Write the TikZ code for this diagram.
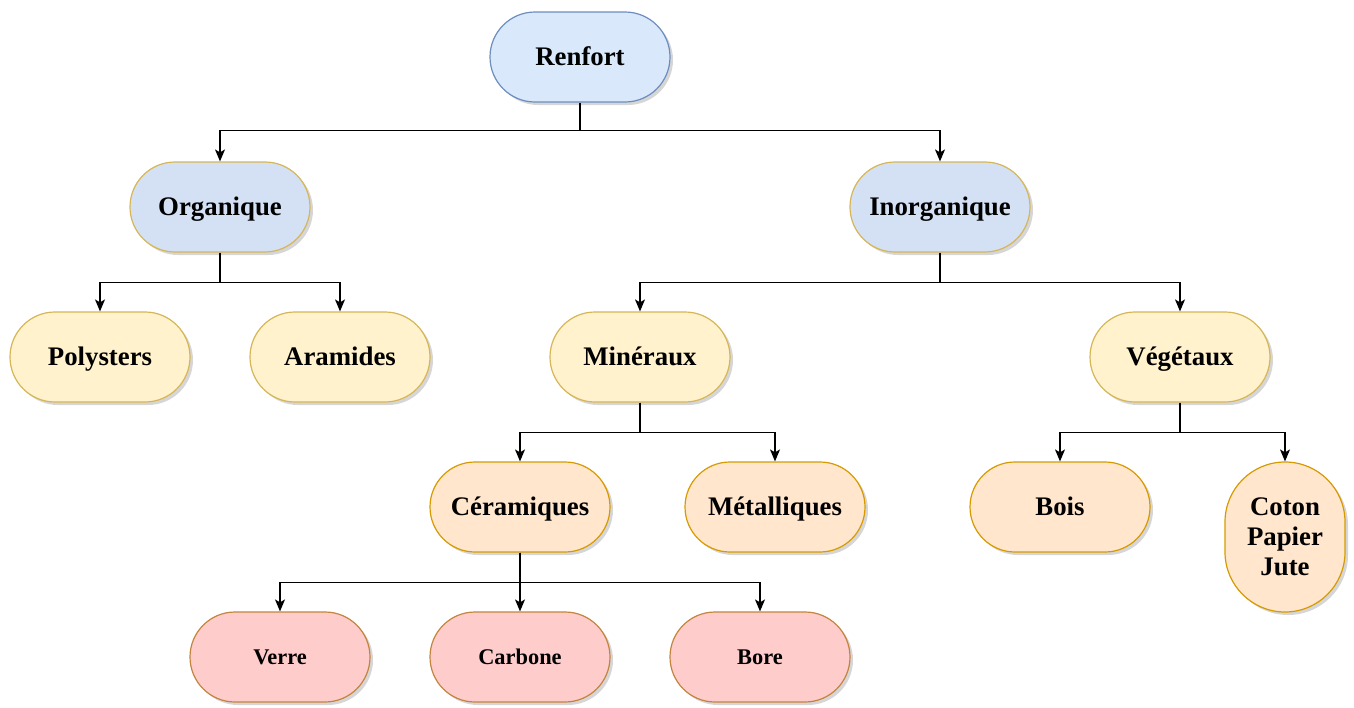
\documentclass[tikz,border=0pt]{standalone}
\usepackage{fontspec}
\setmainfont{Liberation Serif}
\usetikzlibrary{arrows.meta,shadows}
\definecolor{rootFill}{HTML}{DAE8FC}
\definecolor{rootLine}{HTML}{6C8EBF}
\definecolor{classFill}{HTML}{D4E1F5}
\definecolor{yellowFill}{HTML}{FFF2CC}
\definecolor{yellowLine}{HTML}{D6B656}
\definecolor{orangeFill}{HTML}{FFE6CC}
\definecolor{orangeLine}{HTML}{D79B00}
\definecolor{redFill}{HTML}{FFCCCC}
\definecolor{redLine}{HTML}{C4843E}

\begin{document}
\begin{tikzpicture}[x=0.5pt,y=-0.5pt,
    box/.style={draw, line width=0.6pt, minimum width=90pt, minimum height=45pt,
      rounded corners=22.5pt, inner sep=2pt, align=center,
      font=\fontsize{13.4}{15}\selectfont\bfseries,
      drop shadow={shadow xshift=1.5pt, shadow yshift=-1.5pt, fill=black!40, opacity=0.4}},
    oneline/.style={text height=8.9pt, text depth=0pt},
    rootbox/.style={box, oneline, fill=rootFill, draw=rootLine},
    classbox/.style={box, oneline, fill=classFill, draw=yellowLine},
    familybox/.style={box, oneline, fill=yellowFill, draw=yellowLine},
    typebox/.style={box, fill=orangeFill, draw=orangeLine},
    fibrebox/.style={box, fill=redFill, draw=redLine, text height=7.4pt, text depth=0pt,
      font=\fontsize{11.2}{13}\selectfont\bfseries},
    link/.style={draw=black, line width=0.65pt, -{Stealth[length=6pt, width=5pt, inset=1.5pt]}}]
  \useasboundingbox (0,0) rectangle (1354,707);

  % niveaux de l'arbre
  \node[rootbox]   (renfort)    at (580,57)  {Renfort};
  \node[classbox]  (organique)  at (220,207) {Organique};
  \node[classbox]  (inorganique) at (940,207) {Inorganique};
  \node[familybox] (polysters)  at (100,357) {Polysters};
  \node[familybox] (aramides)   at (340,357) {Aramides};
  \node[familybox] (mineraux)   at (640,357) {Minéraux};
  \node[familybox] (vegetaux)   at (1180,357) {Végétaux};
  \node[typebox, oneline] (ceramiques) at (520,507) {Céramiques};
  \node[typebox, oneline] (metalliques) at (775,507) {Métalliques};
  \node[typebox, oneline] (bois) at (1060,507) {Bois};
  \node[typebox, minimum width=60pt, minimum height=75pt, rounded corners=30pt]
                   (coton)      at (1285,537) {Coton\\Papier\\Jute};
  \node[fibrebox]  (verre)      at (280,657) {Verre};
  \node[fibrebox]  (carbone)    at (520,657) {Carbone};
  \node[fibrebox]  (bore)       at (760,657) {Bore};

  % liaisons
  \draw[link] (renfort.south) -- ++(0,28) -| (organique.north);
  \draw[link] (renfort.south) -- ++(0,28) -| (inorganique.north);
  \draw[link] (organique.south) -- ++(0,30) -| (polysters.north);
  \draw[link] (organique.south) -- ++(0,30) -| (aramides.north);
  \draw[link] (inorganique.south) -- ++(0,30) -| (mineraux.north);
  \draw[link] (inorganique.south) -- ++(0,30) -| (vegetaux.north);
  \draw[link] (mineraux.south) -- ++(0,30) -| (ceramiques.north);
  \draw[link] (mineraux.south) -- ++(0,30) -| (metalliques.north);
  \draw[link] (vegetaux.south) -- ++(0,30) -| (bois.north);
  \draw[link] (vegetaux.south) -- ++(0,30) -| (coton.north);
  \draw[link] (ceramiques.south) -- ++(0,30) -| (verre.north);
  \draw[link] (ceramiques.south) -- (carbone.north);
  \draw[link] (ceramiques.south) -- ++(0,30) -| (bore.north);
\end{tikzpicture}
\end{document}
